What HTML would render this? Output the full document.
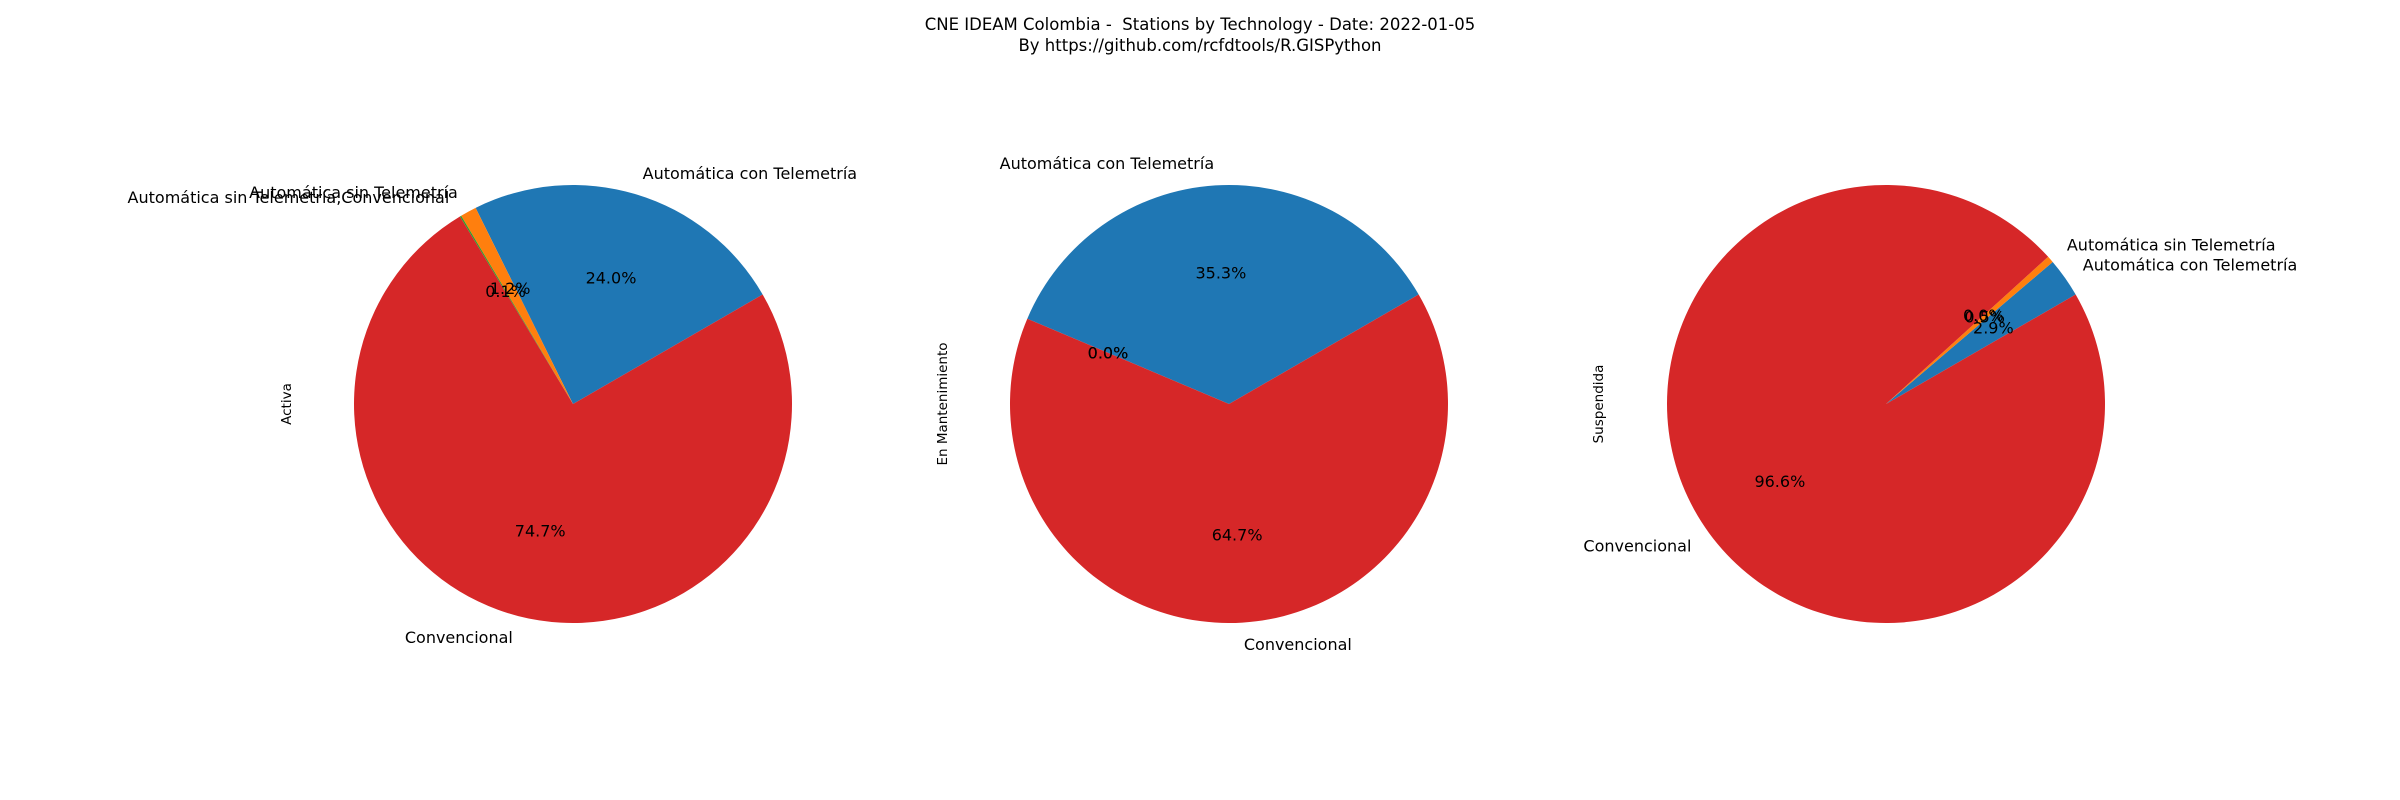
<!DOCTYPE html>
<html><head><meta charset="utf-8"><style>
body{margin:0;background:#fff}
svg{display:block}
text{font-family:"DejaVu Sans","Liberation Sans",sans-serif;fill:#000;white-space:pre}
</style></head><body>
<svg id="chart" width="2400" height="800" viewBox="0 0 2400 800">
<text x="1200" y="30" font-size="16.5" text-anchor="middle">CNE IDEAM Colombia -&#160; Stations by Technology - Date: 2022-01-05</text>
<text x="1200" y="51" font-size="16.5" text-anchor="middle">By https://github.com/rcfdtools/R.GISPython</text>
</svg>
<script>
const categories = ["Automática con Telemetría","Automática sin Telemetría","Automática sin Telemetría,Convencional","Convencional"];
const colors = ["#1f77b4","#ff7f0e","#2ca02c","#d62728"];
const groups = ["Activa","En Mantenimiento","Suspendida"];
const activaValues = [24.0, 1.2, 0.1, 74.7];
const mantenimientoValues = [35.3, 0.0, 0.0, 64.7];
const suspendidaValues = [2.9, 0.5, 0.0, 96.6];
const showLabels = [[true,true,true,true],[true,false,false,true],[true,true,false,true]];
const allValues = [activaValues, mantenimientoValues, suspendidaValues];
const svg = document.getElementById('chart');
const NS = "http://www.w3.org/2000/svg";
const centersX = [573, 1229, 1886], cy = 404, R = 219, START = 30;
function pt(cx, ang, r){ const a = ang*Math.PI/180; return [cx + r*Math.cos(a), cy - r*Math.sin(a)]; }
allValues.forEach((vals, gi) => {
  const cx = centersX[gi];
  const total = vals.reduce((a,b)=>a+b,0);
  const g = document.createElementNS(NS,'g');
  
  
  svg.appendChild(g);
  let ang = START;
  const texts = [];
  vals.forEach((v, i) => {
    const sweep = v/total*360;
    const a0 = ang, a1 = ang + sweep;
    if (sweep > 0) {
      const [x0,y0] = pt(cx,a0,R), [x1,y1] = pt(cx,a1,R);
      const p = document.createElementNS(NS,'path');
      p.setAttribute('d', `M${cx},${cy} L${x0},${y0} A${R},${R} 0 ${sweep>180?1:0} 0 ${x1},${y1} Z`);
      p.setAttribute('fill', colors[i]);
      
      
      g.appendChild(p);
    }
    const mid = a0 + sweep/2;
    const [lx,ly] = pt(cx,mid,R*1.1);
    if (showLabels[gi][i]) {
      const t = document.createElementNS(NS,'text');
      t.setAttribute('x', lx); t.setAttribute('y', ly); t.setAttribute('font-size','16');
      t.setAttribute('text-anchor', lx >= cx ? 'start' : 'end');
      t.setAttribute('dominant-baseline','central');
      t.textContent = categories[i];
      
      
      texts.push(t);
    }
    const [px,py] = pt(cx,mid,R*0.6);
    const pt2 = document.createElementNS(NS,'text');
    pt2.setAttribute('x', px); pt2.setAttribute('y', py); pt2.setAttribute('font-size','16');
    pt2.setAttribute('text-anchor','middle'); pt2.setAttribute('dominant-baseline','central');
    pt2.textContent = v.toFixed(1) + '%';
    
    
    texts.push(pt2);
    ang = a1;
  });
  texts.forEach(t => g.appendChild(t));
  const yl = document.createElementNS(NS,'text');
  const yx = [287, 943, 1599][gi];
  yl.setAttribute('x', yx); yl.setAttribute('y', cy); yl.setAttribute('font-size','13.5');
  yl.setAttribute('text-anchor','middle'); yl.setAttribute('dominant-baseline','central');
  yl.setAttribute('transform', `rotate(-90 ${yx} ${cy})`);
  yl.textContent = groups[gi];
  
  
  g.appendChild(yl);
});
</script>
</body></html>
